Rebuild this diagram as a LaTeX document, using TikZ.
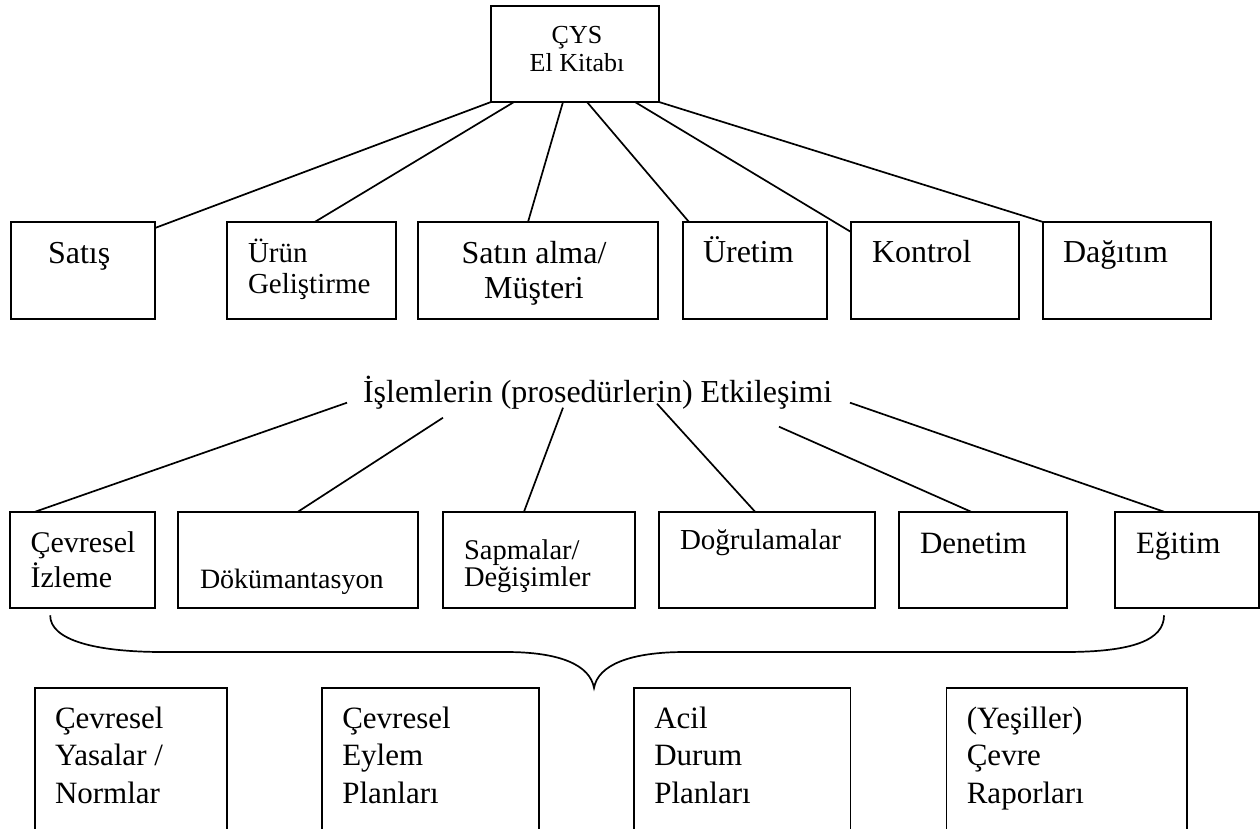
\documentclass[tikz,border=0pt]{standalone}
\usepackage{fontspec}
\setmainfont{Liberation Serif}
\begin{document}
\begin{tikzpicture}[x=1pt,y=-1pt,
  box/.style={draw, line width=1.7pt, anchor=north west, inner sep=0pt, outer sep=0pt},
  txt/.style={anchor=base west, inner sep=0pt, outer sep=0pt, align=left},
  ctxt/.style={anchor=base, inner sep=0pt, outer sep=0pt, align=center},
  link/.style={line width=1.7pt},
  fbig/.style={font=\fontsize{32}{35}\selectfont},
  fmid/.style={font=\fontsize{30}{35}\selectfont},
  fsmall/.style={font=\fontsize{29}{31}\selectfont},
  ftiny/.style={font=\fontsize{26}{28.4}\selectfont},
  flow/.style={font=\fontsize{31}{37.5}\selectfont}]
\useasboundingbox (0,0) rectangle (1260,829);
\clip (0,0) rectangle (1260,829);

% top: manual
\node[box, minimum width=168pt, minimum height=96pt] (cys) at (491,6) {};
% multi-line texts are placed by the baseline of their last line
\node[ctxt, ftiny] (cys-t) at ([shift={(86,65.7)}]cys.north west) {ÇYS\\El Kitabı};

% first row: departments
\node[box, minimum width=144.3pt, minimum height=96.7pt] (satis)   at (10.7,222) {};
\node[box, minimum width=169pt,   minimum height=96.7pt] (urun)    at (226.7,222) {};
\node[box, minimum width=240pt,   minimum height=96.7pt] (satin)   at (418,222) {};
\node[box, minimum width=144pt,   minimum height=96.7pt] (uretim)  at (683,222) {};
\node[box, minimum width=168pt,   minimum height=96.7pt] (kontrol) at (851,222) {};
\node[box, minimum width=168pt,   minimum height=96.7pt] (dagitim) at (1043,222) {};

\node[txt, fbig]   (satis-t)   at ([shift={(37.3,41)}]satis.north west) {Satış};
\node[txt, fsmall] (urun-t)    at ([shift={(21.3,71)}]urun.north west) {Ürün\\Geliştirme};
\node[ctxt, fbig]  (satin-t)   at ([shift={(116,76)}]satin.north west) {Satın alma/\\Müşteri};
\node[txt, fbig]   (uretim-t)  at ([shift={(20,40)}]uretim.north west) {Üretim};
\node[txt, fbig]   (kontrol-t) at ([shift={(21,40)}]kontrol.north west) {Kontrol};
\node[txt, fbig]   (dagitim-t) at ([shift={(20,40)}]dagitim.north west) {Dağıtım};

\draw[link] (cys.south west) -- ([yshift=-6pt]satis.north east);
\draw[link] ([xshift=23pt]cys.south west) -- ([xshift=88pt]urun.north west);
\draw[link] ([xshift=72pt]cys.south west) -- ([xshift=110pt]satin.north west);
\draw[link] ([xshift=96pt]cys.south west) -- ([xshift=6pt]uretim.north west);
\draw[link] ([xshift=144pt]cys.south west) -- ([yshift=-10pt]kontrol.north west);
\draw[link] (cys.south east) -- (dagitim.north west);

% interaction of procedures
\node[txt, fbig] (islem) at (363,402.7) {İşlemlerin (prosedürlerin) Etkileşimi};

% second row: procedures
\node[box, minimum width=144.8pt, minimum height=96.6pt] (ceviz)   at (10.2,511.7) {};
\node[box, minimum width=240pt,   minimum height=96.6pt] (dokum)   at (178,511.7) {};
\node[box, minimum width=192pt,   minimum height=96.6pt] (sapma)   at (443,511.7) {};
\node[box, minimum width=216pt,   minimum height=96.6pt] (dogru)   at (659,511.7) {};
\node[box, minimum width=168pt,   minimum height=96.6pt] (denetim) at (899,511.7) {};
\node[box, minimum width=144pt,   minimum height=96.6pt] (egitim)  at (1115,511.7) {};

\node[txt, fmid]   (ceviz-t)   at ([shift={(20.4,75.3)}]ceviz.north west) {Çevresel\\İzleme};
\node[txt, font=\fontsize{28}{31}\selectfont] (dokum-t) at ([shift={(22,76.3)}]dokum.north west) {Dökümantasyon};
\node[txt, font=\fontsize{28.5}{24}\selectfont] (sapma-t) at ([shift={(21,74.3)}]sapma.north west) {Sapmalar/\\Değişimler};
\node[txt, fsmall] (dogru-t)   at ([shift={(21,37.3)}]dogru.north west) {Doğrulamalar};
\node[txt, flow]   (denetim-t) at ([shift={(21,41.3)}]denetim.north west) {Denetim};
\node[txt, flow]   (egitim-t)  at ([shift={(21,41.3)}]egitim.north west) {Eğitim};

\draw[link] ([shift={(-16,0)}]islem.base west) -- ([xshift=25pt]ceviz.north west);
\draw[link] ([shift={(80,15)}]islem.base west) -- ([xshift=120pt]dokum.north west);
\draw[link] ([shift={(200,5)}]islem.base west) -- ([xshift=81pt]sapma.north west);
\draw[link] ([shift={(294,1)}]islem.base west) -- ([xshift=96pt]dogru.north west);
\draw[link] ([shift={(416,24)}]islem.base west) -- ([xshift=72pt]denetim.north west);
\draw[link] ([shift={(487,0)}]islem.base west) -- ([xshift=49pt]egitim.north west);

% brace gathering the procedures
\coordinate (bl) at ([shift={(40,7)}]ceviz.south west);
\coordinate (br) at ([shift={(49,7)}]egitim.south west);
\coordinate (tip) at (594,688);
\draw[link] (bl) .. controls (50,640) and (95,652) .. (163,652) -- (506,652)
  .. controls (560,652) and (590,665) .. (tip)
  .. controls (598,665) and (630,652) .. (685,652) -- (1065,652)
  .. controls (1133,652) and (1164,640) .. (br);

% bottom row: environmental documents
\node[box, minimum width=192pt,   minimum height=160pt] (b1) at (34.7,688) {};
\node[box, minimum width=217pt,   minimum height=160pt] (b2) at (322,688) {};
\node[box, minimum width=216.6pt, minimum height=160pt] (b3) at (634,688) {};
\node[box, minimum width=240.5pt, minimum height=160pt] (b4) at (946.5,688) {};

\node[txt, flow] (b1-t) at ([shift={(20.3,115)}]b1.north west) {Çevresel\\Yasalar /\\Normlar};
\node[txt, flow] (b2-t) at ([shift={(20.3,115)}]b2.north west) {Çevresel\\Eylem\\Planları};
\node[txt, flow] (b3-t) at ([shift={(20.3,115)}]b3.north west) {Acil\\Durum\\Planları};
\node[txt, flow] (b4-t) at ([shift={(20.3,115)}]b4.north west) {(Yeşiller)\\Çevre\\Raporları};
\end{tikzpicture}
\end{document}
